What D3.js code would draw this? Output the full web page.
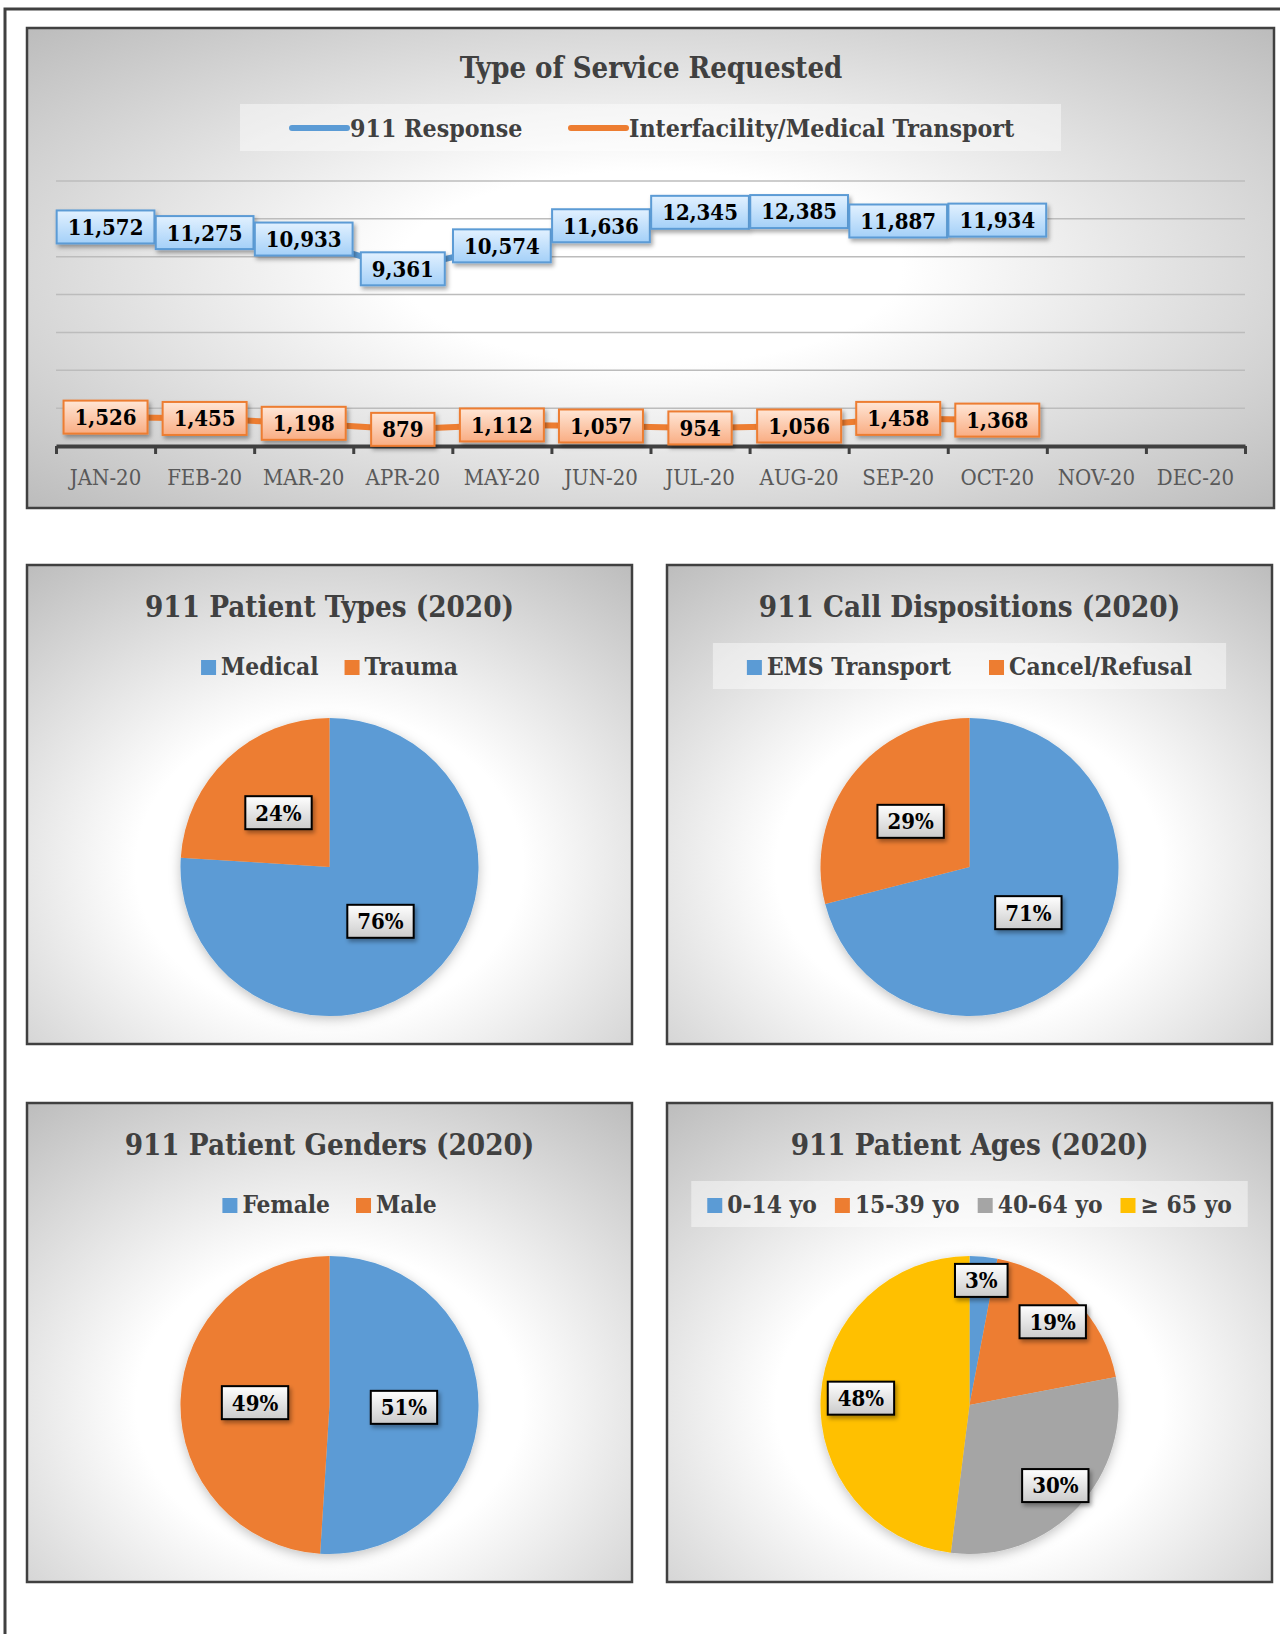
<!DOCTYPE html>
<html>
<head>
<meta charset="utf-8">
<script src="https://cdn.jsdelivr.net/npm/d3@7"></script>
<style>
  body { margin: 0; background: #fff; }
  svg { display: block; }
  text { font-family: 'DejaVu Serif Condensed', 'Liberation Serif', serif; }
</style>
</head>
<body>
<svg width="1280" height="1634"></svg>
<script>
// ---- data ----
const months = ['JAN-20', 'FEB-20', 'MAR-20', 'APR-20', 'MAY-20', 'JUN-20',
  'JUL-20', 'AUG-20', 'SEP-20', 'OCT-20', 'NOV-20', 'DEC-20'];
const response911 = [11572, 11275, 10933, 9361, 10574, 11636, 12345, 12385, 11887, 11934];
const transport = [1526, 1455, 1198, 879, 1112, 1057, 954, 1056, 1458, 1368];
const gridTicks = [2000, 4000, 6000, 8000, 10000, 12000, 14000];

const typeNames = ['Medical', 'Trauma'];
const typeShares = [76, 24];
const dispNames = ['EMS Transport', 'Cancel/Refusal'];
const dispShares = [71, 29];
const genderNames = ['Female', 'Male'];
const genderShares = [51, 49];
const ageNames = ['0-14 yo', '15-39 yo', '40-64 yo', '\u2265 65 yo'];
const ageShares = [3, 19, 30, 48];

const blue = '#5b9bd5';
const orange = '#ed7d31';
const gray = '#a5a5a5';
const gold = '#ffc000';

const svg = d3.select('svg');
const defs = svg.append('defs');

function radial(id, cx, cy, r, inner, outer) {
  const g = defs.append('radialGradient').attr('id', id)
    .attr('cx', cx).attr('cy', cy).attr('r', r);
  g.append('stop').attr('offset', 0).attr('stop-color', '#ffffff');
  g.append('stop').attr('offset', inner).attr('stop-color', '#ffffff');
  g.append('stop').attr('offset', 1).attr('stop-color', outer);
}
function vertical(id, top, bottom) {
  const g = defs.append('linearGradient').attr('id', id)
    .attr('x1', 0).attr('y1', 0).attr('x2', 0).attr('y2', 1);
  g.append('stop').attr('offset', 0).attr('stop-color', top);
  g.append('stop').attr('offset', 1).attr('stop-color', bottom);
}
radial('lineBg', 0.5, 0.5, 0.72, 0.28, '#bababa');
radial('pieBg', 0.5, 0.63, 0.8, 0.4, '#bdbdbd');
vertical('blueBox', '#e2f1ff', '#a4d0f8');
vertical('orangeBox', '#ffe6d6', '#f9ad83');
vertical('grayBox', '#ffffff', '#cbcbcb');

defs.append('filter').attr('id', 'shadow')
  .attr('x', -0.2).attr('y', -0.2).attr('width', 1.5).attr('height', 1.6)
  .append('feDropShadow')
  .attr('dx', 2).attr('dy', 3).attr('stdDeviation', 2)
  .attr('flood-color', '#000').attr('flood-opacity', 0.35);
defs.append('filter').attr('id', 'pieShadow')
  .attr('x', -0.2).attr('y', -0.2).attr('width', 1.4).attr('height', 1.4)
  .append('feDropShadow')
  .attr('dx', 0).attr('dy', 3).attr('stdDeviation', 6)
  .attr('flood-color', '#000').attr('flood-opacity', 0.25);

// outer page frame
svg.append('rect')
  .attr('x', 5).attr('y', 9).attr('width', 1300).attr('height', 1660)
  .attr('fill', 'none').attr('stroke', '#404040').attr('stroke-width', 3);

function labelBox(g, x, y, text, fill, stroke, padX) {
  const box = g.append('g')
    .attr('transform', `translate(${x},${y})`);
  const rect = box.append('rect');
  const t = box.append('text')
    .attr('text-anchor', 'middle')
    .attr('dy', '0.36em')
    .attr('font-size', 22)
    .attr('font-weight', 'bold')
    .attr('fill', '#000')
    .text(text);
  const w = t.node().getComputedTextLength() + padX * 2;
  rect.attr('x', -w / 2).attr('y', -16.5)
    .attr('width', w).attr('height', 33)
    .attr('fill', fill).attr('stroke', stroke).attr('stroke-width', 2)
    .attr('filter', 'url(#shadow)');
}

// ---- line chart: Type of Service Requested ----
const lp = {x: 27, y: 28, w: 1247, h: 480};
svg.append('rect')
  .attr('x', lp.x).attr('y', lp.y).attr('width', lp.w).attr('height', lp.h)
  .attr('fill', 'url(#lineBg)').attr('stroke', '#404040').attr('stroke-width', 2.5);

svg.append('text')
  .attr('x', 651).attr('y', 78)
  .attr('text-anchor', 'middle')
  .attr('font-size', 29).attr('font-weight', 'bold').attr('fill', '#404040')
  .text('Type of Service Requested');

const x = d3.scaleBand().domain(months).range([56, 1245]);
const y = d3.scaleLinear().domain([0, 14000]).range([446, 181]);
const cx = (m) => x(m) + x.bandwidth() / 2;

// gridlines
svg.append('g')
  .selectAll('line')
  .data(gridTicks)
  .join('line')
  .attr('x1', 56).attr('x2', 1245)
  .attr('y1', (d) => y(d)).attr('y2', (d) => y(d))
  .attr('stroke', '#bcbcbc').attr('stroke-width', 1.5);

// x axis: boundary ticks + month labels
const edge = d3.scaleLinear().domain([0, months.length]).range([56, 1245]);
const tickAxis = svg.append('g')
  .attr('transform', `translate(0,${y(0)})`)
  .call(d3.axisBottom(edge).tickValues(d3.range(months.length + 1))
    .tickFormat('').tickSize(8).tickSizeOuter(0));
tickAxis.select('.domain').attr('stroke', '#404040').attr('stroke-width', 4);
tickAxis.selectAll('.tick line').attr('stroke', '#404040').attr('stroke-width', 3);

const labelAxis = svg.append('g')
  .attr('transform', `translate(0,${y(0)})`)
  .call(d3.axisBottom(x).tickSize(0).tickPadding(23));
labelAxis.select('.domain').remove();
labelAxis.selectAll('text')
  .attr('font-family', null)
  .attr('font-size', 22)
  .attr('fill', '#595959');

const line = d3.line()
  .x((d, i) => cx(months[i]))
  .y((d) => y(d));

[[response911, blue], [transport, orange]].forEach(([vals, col]) => {
  svg.append('path')
    .datum(vals)
    .attr('d', line)
    .attr('fill', 'none')
    .attr('stroke', col)
    .attr('stroke-width', 6)
    .attr('stroke-linejoin', 'round');
});

const fmt = d3.format(',');
const lineLabels = svg.append('g');
response911.forEach((v, i) =>
  labelBox(lineLabels, cx(months[i]), y(v), fmt(v), 'url(#blueBox)', blue, 11));
transport.forEach((v, i) =>
  labelBox(lineLabels, cx(months[i]), y(v), fmt(v), 'url(#orangeBox)', orange, 11));

// legend
const lineLegend = svg.append('g');
lineLegend.append('rect')
  .attr('x', 240).attr('y', 104).attr('width', 821).attr('height', 47)
  .attr('fill', '#fff').attr('fill-opacity', 0.45);
[['911 Response', blue, 292], ['Interfacility/Medical Transport', orange, 571]]
  .forEach(([name, col, lx]) => {
    lineLegend.append('line')
      .attr('x1', lx).attr('x2', lx + 55).attr('y1', 128).attr('y2', 128)
      .attr('stroke', col).attr('stroke-width', 6).attr('stroke-linecap', 'round');
    lineLegend.append('text')
      .attr('x', lx + 58).attr('y', 137)
      .attr('font-size', 24.7).attr('font-weight', 'bold').attr('fill', '#404040')
      .text(name);
  });

// ---- pie charts ----
function drawPie(cfg) {
  const {px, py, title, names, shares, colors, labelR, gap, pad, box} = cfg;
  const w = 605;
  const h = 479;
  const g = svg.append('g').attr('transform', `translate(${px},${py})`);
  g.append('rect')
    .attr('width', w).attr('height', h)
    .attr('fill', 'url(#pieBg)').attr('stroke', '#404040').attr('stroke-width', 2.5);

  g.append('text')
    .attr('x', w / 2).attr('y', 52)
    .attr('text-anchor', 'middle')
    .attr('font-size', 29.3).attr('font-weight', 'bold').attr('fill', '#404040')
    .text(title);

  // legend, laid out from measured text widths
  const leg = g.append('g');
  const legBg = leg.append('rect');
  let lx = 0;
  names.forEach((n, i) => {
    const it = leg.append('g');
    it.append('rect')
      .attr('x', 0).attr('y', -15).attr('width', 15).attr('height', 15)
      .attr('fill', colors[i]);
    const t = it.append('text')
      .attr('x', 20).attr('y', 0)
      .attr('font-size', 24.3).attr('font-weight', 'bold').attr('fill', '#404040')
      .text(n);
    const iw = 20 + t.node().getComputedTextLength();
    it.attr('transform', `translate(${lx},0)`);
    lx += iw + gap;
  });
  const legW = lx - gap;
  leg.attr('transform', `translate(${w / 2 - legW / 2},${110})`);
  legBg.attr('x', -pad).attr('y', -32).attr('width', legW + pad * 2).attr('height', 46)
    .attr('fill', '#fff').attr('fill-opacity', box ? 0.45 : 0);

  const r = 149;
  const pie = d3.pie().sort(null).value((d) => d);
  const arcs = pie(shares);
  const arc = d3.arc().innerRadius(0).outerRadius(r);
  const pg = g.append('g').attr('transform', `translate(${w / 2},302)`);
  pg.append('g').attr('filter', 'url(#pieShadow)')
    .selectAll('path')
    .data(arcs)
    .join('path')
    .attr('d', arc)
    .attr('fill', (d, i) => colors[i]);

  arcs.forEach((a, i) => {
    const lr = r * labelR[i];
    const [lx2, ly2] = d3.arc().innerRadius(lr).outerRadius(lr).centroid(a);
    labelBox(pg, lx2, ly2, `${shares[i]}%`, 'url(#grayBox)', '#000', 10);
  });
}

drawPie({px: 27, py: 565, title: '911 Patient Types (2020)',
  names: typeNames, shares: typeShares, colors: [blue, orange],
  labelR: [0.5, 0.5], gap: 26, pad: 34, box: false});
drawPie({px: 667, py: 565, title: '911 Call Dispositions (2020)',
  names: dispNames, shares: dispShares, colors: [blue, orange],
  labelR: [0.5, 0.5], gap: 38, pad: 34, box: true});
drawPie({px: 27, py: 1103, title: '911 Patient Genders (2020)',
  names: genderNames, shares: genderShares, colors: [blue, orange],
  labelR: [0.5, 0.5], gap: 26, pad: 34, box: false});
drawPie({px: 667, py: 1103, title: '911 Patient Ages (2020)',
  names: ageNames, shares: ageShares, colors: [blue, orange, gray, gold],
  labelR: [0.84, 0.79, 0.79, 0.73], gap: 18, pad: 16, box: true});
</script>
</body>
</html>
